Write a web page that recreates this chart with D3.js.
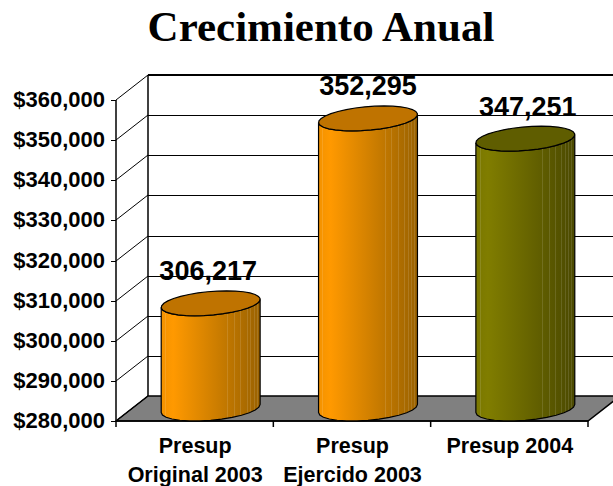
<!DOCTYPE html>
<html>
<head>
<meta charset="utf-8">
<script src="https://cdn.jsdelivr.net/npm/d3@7"></script>
<style>
  html, body { margin: 0; padding: 0; background: #fff; }
  svg { display: block; }
  text { font-family: "Liberation Sans", Arial, sans-serif; font-weight: bold; fill: #000; }
</style>
</head>
<body>
<svg id="chart" width="613" height="486"></svg>
<script>
const chartTitle = 'Crecimiento Anual';
const categories = [['Presup', 'Original 2003'], ['Presup', 'Ejercido 2003'], ['Presup 2004']];
const values = [306217, 352295, 347251];
const valueLabels = ['306,217', '352,295', '347,251'];
const tickValues = [280000, 290000, 300000, 310000, 320000, 330000, 340000, 350000, 360000];
const barColors = [
  { light: '#ff9900', dark: '#9a6200', top: '#bf7300' },
  { light: '#ff9900', dark: '#9a6200', top: '#bf7300' },
  { light: '#807d00', dark: '#4b4900', top: '#5f5d00' },
];
// light seams in the cylinder side, fraction of its width
const seams = [0.04, 0.67, 0.735, 0.8, 0.865, 0.9, 0.935, 0.965];

const width = 613;
const plotLeft = 116, plotRight = 588, plotTop = 100, plotBottom = 421;
const depthX = 32, depthY = 25;

const svg = d3.select('#chart');
const y = d3.scaleLinear().domain([280000, 360000]).range([plotBottom, plotTop]);
const x = d3.scaleBand().domain(d3.range(categories.length)).range([plotLeft, plotRight]);

svg.append('text')
  .attr('x', 321).attr('y', 41)
  .attr('text-anchor', 'middle')
  .style('font-family', '"Liberation Serif", "Times New Roman", serif')
  .style('font-size', '43px')
  .text(chartTitle);

// Floor
svg.append('path')
  .attr('d', d3.line()([
    [plotLeft, plotBottom], [plotRight, plotBottom],
    [plotRight + depthX, plotBottom - depthY], [plotLeft + depthX, plotBottom - depthY],
  ]) + 'Z')
  .attr('fill', '#808080')
  .attr('stroke', '#000')
  .attr('stroke-width', 1.5);

// Walls: back gridlines and side diagonals
tickValues.forEach((t) => {
  const py = Math.round(y(t));
  if (t > 280000) {
    svg.append('line')
      .attr('x1', plotLeft + depthX).attr('x2', width)
      .attr('y1', py - depthY).attr('y2', py - depthY)
      .attr('stroke', '#000')
      .attr('stroke-width', t === 360000 ? 1.5 : 1)
      .attr('shape-rendering', 'crispEdges');
  }
  svg.append('line')
    .attr('x1', plotLeft).attr('y1', py)
    .attr('x2', plotLeft + depthX).attr('y2', py - depthY)
    .attr('stroke', '#000');
  svg.append('line')
    .attr('x1', plotLeft - 5).attr('x2', plotLeft)
    .attr('y1', py).attr('y2', py)
    .attr('stroke', '#000')
    .attr('shape-rendering', 'crispEdges');
  svg.append('text')
    .attr('x', 105).attr('y', py + 7)
    .attr('text-anchor', 'end')
    .style('font-size', '22px')
    .text('$' + d3.format(',')(t));
});

svg.append('line')
  .attr('x1', plotLeft).attr('x2', plotLeft)
  .attr('y1', plotTop).attr('y2', plotBottom)
  .attr('stroke', '#000').attr('stroke-width', 1.5);
svg.append('line')
  .attr('x1', plotLeft + depthX).attr('x2', plotLeft + depthX)
  .attr('y1', plotTop - depthY).attr('y2', plotBottom - depthY)
  .attr('stroke', '#000').attr('stroke-width', 1.5);
svg.append('line')
  .attr('x1', plotLeft).attr('x2', plotRight)
  .attr('y1', plotBottom).attr('y2', plotBottom)
  .attr('stroke', '#000').attr('stroke-width', 1.5);

// Category ticks
d3.range(categories.length + 1).forEach((i) => {
  const px = plotLeft + (i * (plotRight - plotLeft)) / categories.length;
  svg.append('line')
    .attr('x1', px).attr('x2', px)
    .attr('y1', plotBottom).attr('y2', plotBottom + 6)
    .attr('stroke', '#000')
    .attr('stroke-width', 1.5);
});

// Cylinders
const defs = svg.append('defs');
const rimX = 46.8, skewX = depthX / 2, rimY = depthY / 2;
const halfW = Math.hypot(rimX, skewX);
const edgeT = Math.atan2(skewX, rimX);
const rim = (cx, cy, t) => [
  cx + rimX * Math.cos(t) + skewX * Math.sin(t),
  cy - rimY * Math.sin(t),
];
const line = d3.line();

values.forEach((v, i) => {
  const c = barColors[i];
  const cx = x(i) + x.bandwidth() / 2 + depthX / 2;
  const topY = y(v) - depthY / 2;
  const baseY = plotBottom - depthY / 2;
  const gap = 14;

  const grad = defs.append('linearGradient')
    .attr('id', `side-${i}`)
    .attr('x1', 0).attr('x2', 1).attr('y1', 0).attr('y2', 0);
  grad.append('stop').attr('offset', 0).attr('stop-color', d3.interpolateRgb(c.light, c.dark)(0.12));
  grad.append('stop').attr('offset', 0.12).attr('stop-color', c.light);
  grad.append('stop').attr('offset', 1).attr('stop-color', c.dark);

  // front half of the base rim, then back up along the top rim
  const front = d3.range(0, gap + 1).map((k) => edgeT + Math.PI + (k / gap) * Math.PI);
  const topBack = front.slice().reverse();
  const outline = front.map((t) => rim(cx, baseY, t)).concat(topBack.map((t) => rim(cx, topY, t)));

  const clipId = `clip-${i}`;
  defs.append('clipPath').attr('id', clipId)
    .append('path').attr('d', line(outline) + 'Z');

  svg.append('path')
    .attr('d', line(outline) + 'Z')
    .attr('fill', `url(#side-${i})`);

  const seamG = svg.append('g').attr('clip-path', `url(#${clipId})`);
  seams.forEach((f) => {
    const sx = Math.round(cx - halfW + f * 2 * halfW) + 0.5;
    seamG.append('line')
      .attr('x1', sx).attr('x2', sx)
      .attr('y1', topY - rimY).attr('y2', baseY + rimY)
      .attr('stroke', '#fff')
      .attr('stroke-opacity', 0.12);
  });

  svg.append('path')
    .attr('d', line(outline) + 'Z')
    .attr('fill', 'none')
    .attr('stroke', '#000')
    .attr('stroke-width', 1.2);

  const full = d3.range(0, 32).map((k) => rim(cx, topY, (k / 32) * 2 * Math.PI));
  svg.append('path')
    .attr('d', line(full) + 'Z')
    .attr('fill', c.top)
    .attr('stroke', '#000')
    .attr('stroke-width', 1.2);

  svg.append('text')
    .attr('x', cx - 2.5 + i * 2.5)
    .attr('y', topY - 23)
    .attr('text-anchor', 'middle')
    .style('font-size', '27px')
    .text(valueLabels[i]);
});

// Category labels
categories.forEach((lines, i) => {
  const cx = x(i) + x.bandwidth() / 2;
  lines.forEach((txt, k) => {
    svg.append('text')
      .attr('x', cx + 0.5).attr('y', 453 + k * 29)
      .attr('text-anchor', 'middle')
      .style('font-size', '21.5px')
      .text(txt);
  });
});
</script>
</body>
</html>
